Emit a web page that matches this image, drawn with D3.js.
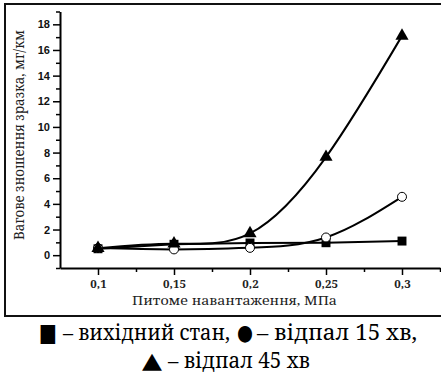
<!DOCTYPE html>
<html>
<head>
<meta charset="utf-8">
<title>Wear</title>
<script src="https://d3js.org/d3.v7.min.js"></script>
<style>
body { margin: 0; background: #fff; }
svg { display: block; }
</style>
</head>
<body>
<script>

// load, MPa
const loads = [0.1, 0.15, 0.2, 0.25, 0.3];
// wear, mg/km
const initialState = [0.5, 0.85, 0.95, 0.97, 1.1];
const anneal15 = [0.55, 0.45, 0.57, 1.38, 4.55];
const anneal45 = [0.55, 0.9, 1.7, 7.65, 17.1];

const xTicks = [0.1, 0.15, 0.2, 0.25, 0.3];
const xMinor = [0.125, 0.175, 0.225, 0.275, 0.325];
const yTicks = [0, 2, 4, 6, 8, 10, 12, 14, 16, 18];
const yMinor = [-1, 1, 3, 5, 7, 9, 11, 13, 15, 17, 19];

// Liberation Serif here has no cyrillic, so Noto Serif it is
const SERIF = "'Noto Serif', 'DejaVu Serif', serif";
const SANS = "'Liberation Sans', Arial, sans-serif";
const SYM = "'DejaVu Sans', sans-serif";

const W = 441, H = 374;
const svg = d3.select("body").append("svg").attr("width", W).attr("height", H);

// outer frame
svg.append("rect")
  .attr("x", 5).attr("y", 4).attr("width", 445).attr("height", 312)
  .attr("fill", "none").attr("stroke", "#111").attr("stroke-width", 2);

const x = d3.scaleLinear().domain([0.075, 0.325]).range([60, 440]);
const y = d3.scaleLinear().domain([-1, 19]).range([268, 11.5]);

// y axis
let ya = svg.append("g").attr("transform", "translate(60,0)")
  .call(d3.axisLeft(y).tickValues(yTicks).tickSize(7).tickSizeOuter(0).tickPadding(3));
ya.select(".domain").attr("stroke-width", 2);
ya.selectAll(".tick line").attr("stroke-width", 1.5);
ya.selectAll("text").style("font-family", SANS)
  .attr("font-weight", "bold").attr("font-size", 11).attr("fill", "#111");
svg.append("g").attr("transform", "translate(60,0)")
  .call(d3.axisLeft(y).tickValues(yMinor).tickSize(4).tickFormat(""))
  .call(g => g.select(".domain").remove())
  .selectAll(".tick line").attr("stroke-width", 1.5);

// x axis
let xa = svg.append("g").attr("transform", "translate(0,268)")
  .call(d3.axisBottom(x).tickValues(xTicks).tickSize(7).tickSizeOuter(0).tickPadding(5)
    .tickFormat(d => String(d).replace(".", ",")));
xa.select(".domain").attr("stroke-width", 2);
xa.selectAll(".tick line").attr("stroke-width", 1.5);
xa.selectAll("text").style("font-family", SERIF)
  .attr("font-weight", "bold").attr("font-size", 11.5).attr("fill", "#222");
svg.append("g").attr("transform", "translate(0,268)")
  .call(d3.axisBottom(x).tickValues(xMinor).tickSize(4).tickFormat(""))
  .call(g => g.select(".domain").remove())
  .selectAll(".tick line").attr("stroke-width", 1.5);

// axis titles
svg.append("text")
  .attr("transform", "translate(24,240) rotate(-90)")
  .style("font-family", SERIF)
  .attr("font-size", 13.5).attr("fill", "#222")
  .attr("textLength", 210).attr("lengthAdjust", "spacingAndGlyphs")
  .text("Вагове зношення зразка, мг/км");

svg.append("text")
  .attr("x", 132).attr("y", 305)
  .style("font-family", SERIF)
  .attr("font-size", 13).attr("fill", "#222")
  .attr("textLength", 205).attr("lengthAdjust", "spacingAndGlyphs")
  .text("Питоме навантаження, МПа");

// lines
const series = [
  { vals: initialState, curve: d3.curveLinear, mark: "square" },
  { vals: anneal15, curve: d3.curveNatural, mark: "circle" },
  { vals: anneal45, curve: d3.curveNatural, mark: "triangle" }
];

series.forEach(s => {
  const pts = loads.map((l, i) => [l, s.vals[i]]);
  svg.append("path")
    .datum(pts)
    .attr("fill", "none").attr("stroke", "#000").attr("stroke-width", 2)
    .attr("d", d3.line().x(d => x(d[0])).y(d => y(d[1])).curve(s.curve));
});

series.forEach(s => {
  const pts = loads.map((l, i) => [l, s.vals[i]]);
  const g = svg.append("g");
  if (s.mark === "square") {
    g.selectAll("path").data(pts).join("path")
      .attr("transform", d => `translate(${x(d[0])},${y(d[1])})`)
      .attr("d", d3.symbol(d3.symbolSquare, 80)).attr("fill", "#000");
  } else if (s.mark === "circle") {
    g.selectAll("circle").data(pts).join("circle")
      .attr("cx", d => x(d[0])).attr("cy", d => y(d[1])).attr("r", 4.5)
      .attr("fill", "#fff").attr("stroke", "#000").attr("stroke-width", 1);
  } else {
    g.selectAll("path").data(pts).join("path")
      .attr("transform", d => `translate(${x(d[0])},${y(d[1])})`)
      .attr("d", d3.symbol(d3.symbolTriangle, 75)).attr("fill", "#000");
  }
});

// caption legend under the frame
const capParts = [
  { t: "■", x: 39, y: 341, len: 18, size: 25, sym: true },
  { t: "– вихідний стан,", x: 63, y: 340, len: 167, size: 21 },
  { t: "●", x: 237, y: 340, len: 16, size: 22, sym: true },
  { t: "– відпал 15 хв,", x: 257, y: 340, len: 160, size: 21 },
  { t: "▲", x: 142, y: 368, len: 20, size: 22, sym: true },
  { t: "– відпал 45 хв", x: 168, y: 368, len: 142, size: 21 }
];
svg.append("g").selectAll("text").data(capParts).join("text")
  .attr("x", d => d.x).attr("y", d => d.y)
  .style("font-family", d => d.sym ? SYM : SERIF)
  .attr("font-size", d => d.size)
  .attr("fill", "#000")
  .attr("textLength", d => d.len).attr("lengthAdjust", "spacingAndGlyphs")
  .text(d => d.t);

</script>
</body>
</html>
